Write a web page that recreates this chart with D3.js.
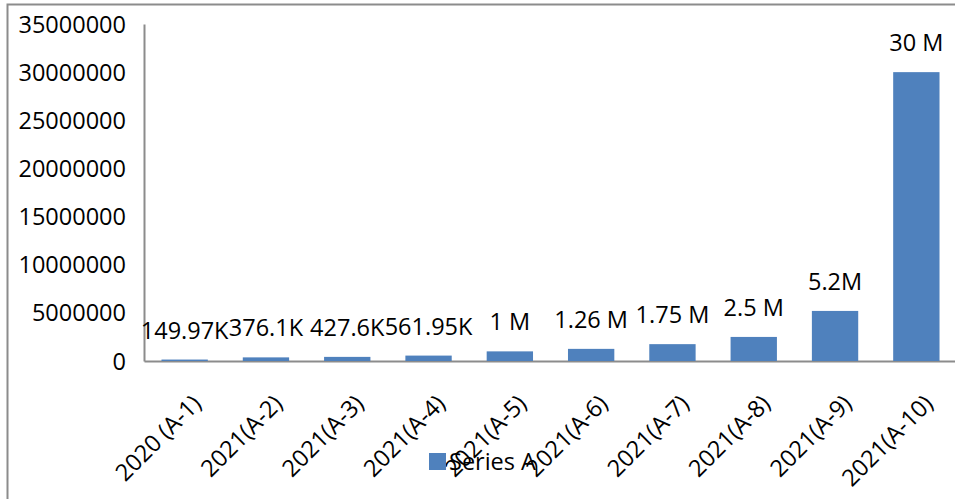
<!DOCTYPE html>
<html>
<head>
<meta charset="utf-8">
<script src="https://cdn.jsdelivr.net/npm/d3@7/dist/d3.min.js"></script>
<style>
  html, body { margin: 0; padding: 0; background: #fff; }
  svg { display: block; }
  text { font-family: "Open Sans", "Noto Sans", sans-serif; fill: #000; }
</style>
</head>
<body>
<svg id="chart" width="955" height="499"></svg>
<script>
// Categories, values and the labels printed above each bar
const categories = ["2020 (A-1)", "2021(A-2)", "2021(A-3)", "2021(A-4)", "2021(A-5)",
                    "2021(A-6)", "2021(A-7)", "2021(A-8)", "2021(A-9)", "2021(A-10)"];
const values = [149970, 376100, 427600, 561950, 1000000, 1260000, 1750000, 2500000, 5200000, 30000000];
const valueLabels = ["149.97K", "376.1K", "427.6K", "561.95K", "1 M", "1.26 M", "1.75 M", "2.5 M", "5.2M", "30 M"];
const yTicks = [0, 5000000, 10000000, 15000000, 20000000, 25000000, 30000000, 35000000];
const seriesName = "Series A";

const svg = d3.select("#chart");
const W = 955, H = 499;
const plot = { left: 144, right: 957, top: 24, bottom: 361 };
const barColor = "#4F81BD";
const fontSize = 23.5;

// Chart frame
svg.append("rect")
  .attr("x", 7.5).attr("y", 4.5)
  .attr("width", W + 10).attr("height", H + 10)
  .attr("fill", "none").attr("stroke", "#8c8c8c").attr("stroke-width", 2);

const x = d3.scaleBand().domain(categories)
  .range([plot.left, plot.right]).paddingInner(0.43).paddingOuter(0.215);
const y = d3.scaleLinear().domain([0, 35000000]).range([plot.bottom, plot.top]);

// Y axis
const yAxis = svg.append("g")
  .attr("transform", `translate(${plot.left},0)`)
  .call(d3.axisLeft(y).tickValues(yTicks).tickFormat(d3.format("d")).tickSize(0).tickPadding(18));
yAxis.select(".domain").attr("stroke", "#8c8c8c").attr("stroke-width", 2);
yAxis.selectAll("text").style("font-size", fontSize + "px").attr("dy", "0.34em");

// X axis
const xAxis = svg.append("g")
  .attr("transform", `translate(0,${plot.bottom})`)
  .call(d3.axisBottom(x).tickSize(0).tickPadding(0));
xAxis.select(".domain").attr("stroke", "#8c8c8c").attr("stroke-width", 2);
xAxis.selectAll("text")
  .style("font-size", fontSize + "px")
  .attr("text-anchor", "end")
  .attr("dy", 0)
  .attr("transform", "translate(18,44) rotate(-45)");

// Bars
svg.append("g").selectAll("rect")
  .data(values)
  .join("rect")
  .attr("x", (d, i) => x(categories[i]))
  .attr("y", d => y(d))
  .attr("width", x.bandwidth())
  .attr("height", d => y(0) - y(d))
  .attr("fill", barColor);

// Value labels
svg.append("g").selectAll("text")
  .data(values)
  .join("text")
  .attr("x", (d, i) => x(categories[i]) + x.bandwidth() / 2)
  .attr("y", d => y(d) - 21)
  .attr("text-anchor", "middle")
  .style("font-size", fontSize + "px")
  .text((d, i) => valueLabels[i]);

// Legend
const legend = svg.append("g").attr("transform", "translate(429,453)");
legend.append("rect").attr("width", 17).attr("height", 17).attr("fill", barColor);
legend.append("text").attr("x", 20).attr("y", 17)
  .style("font-size", fontSize + "px").text(seriesName);
</script>
</body>
</html>
